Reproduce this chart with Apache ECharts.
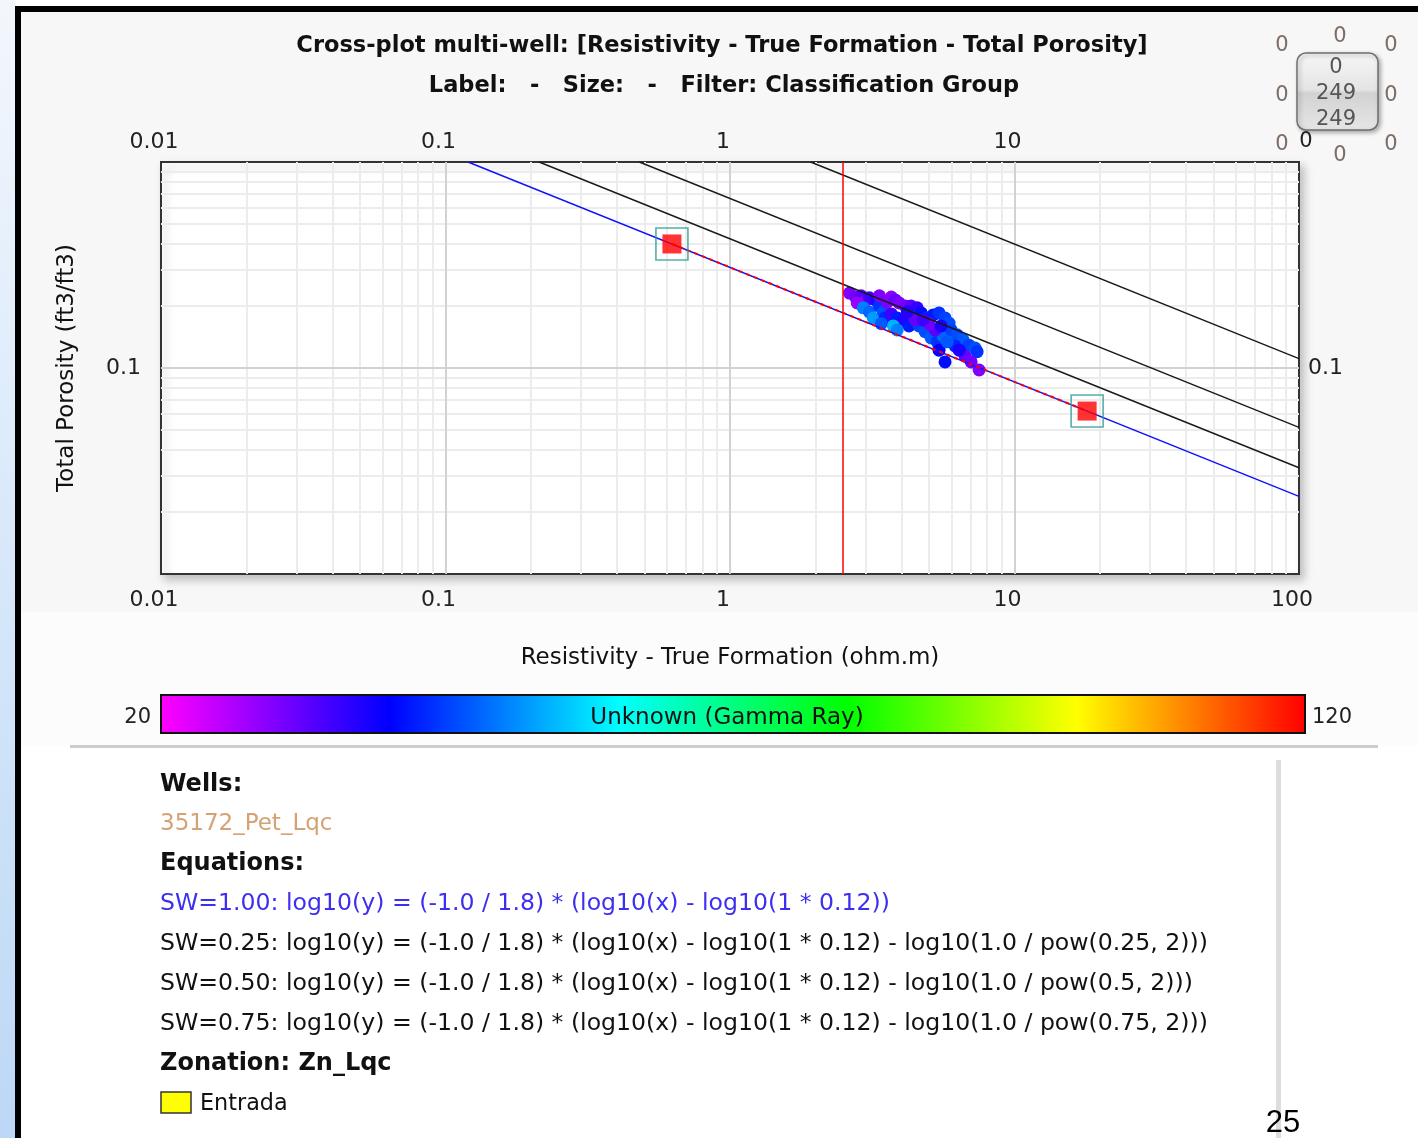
<!DOCTYPE html>
<html><head><meta charset="utf-8">
<script src="https://cdn.jsdelivr.net/npm/echarts@6/dist/echarts.min.js"></script>
<style>html,body{margin:0;padding:0;background:#fff}#c{width:1418px;height:1138px}</style>
</head><body><div id="c"></div>
<script>
// ---- tick labels ----
const xTickLabels = ['0.01', '0.1', '1', '10', '100'];
const xTopTickLabels = ['0.01', '0.1', '1', '10', ''];
const yTickLabels = ['', '0.1', ''];

// ---- gridline values (log decades and minor multiples) ----
const majorX = [0.1, 1, 10];
const minorX = [0.02,0.03,0.04,0.05,0.06,0.07,0.08,0.09,0.2,0.3,0.4,0.5,0.6,0.7,0.8,0.9,2,3,4,5,6,7,8,9,20,30,40,50,60,70,80,90];
const majorY = [0.1];
const minorY = [0.02,0.03,0.04,0.05,0.06,0.07,0.08,0.09,0.2,0.3,0.4,0.5,0.6,0.7,0.8,0.9];

// ---- well data: resistivity (ohm.m), total porosity, gamma ray ----
const resistivity = [2.63,2.76,2.89,2.99,2.80,3.09,3.24,2.94,3.09,3.19,3.35,3.46,3.57,3.69,3.81,3.93,4.13,4.33,4.55,3.51,3.69,3.87,4.06,4.26,3.75,3.87,3.40,4.40,4.70,4.93,5.18,5.43,5.70,5.89,4.62,4.85,5.09,5.35,5.61,5.99,6.28,6.60,6.92,7.27,7.39,5.43,5.70,5.26,5.01,6.71,7.04,7.51,6.18,6.39,4.48,4.77,5.52,5.80,3.35,4.20];
const porosity    = [0.231,0.221,0.224,0.211,0.207,0.219,0.214,0.196,0.187,0.175,0.200,0.187,0.209,0.221,0.214,0.207,0.200,0.200,0.196,0.175,0.183,0.175,0.167,0.160,0.160,0.153,0.164,0.179,0.185,0.175,0.181,0.185,0.175,0.165,0.160,0.150,0.140,0.134,0.143,0.153,0.145,0.137,0.129,0.125,0.120,0.122,0.107,0.153,0.164,0.114,0.107,0.0978,0.128,0.122,0.171,0.171,0.160,0.134,0.224,0.187];
const gammaRay    = [30,31,33,30,28,35,37,50,48,52,44,46,30,29,32,30,31,33,36,43,35,42,37,42,54,50,47,43,41,43,42,44,45,46,45,46,47,44,48,45,46,47,45,46,44,40,41,33,31,32,31,30,43,38,32,35,38,47,30,37];

// ---- Archie lines: SW level, resistivity at porosity=1, porosity at resistivity=100 ----
const swLevels = ['1.00', '0.75', '0.50', '0.25'];
const swLineStartX = [0.12, 0.2133, 0.48, 1.92];
const swLineEndY = [0.0238, 0.0328, 0.0515, 0.111];

// ---- fitted segment end points and cutoff ----
const fitX = [0.625, 18];
const fitY = [0.400, 0.0618];
const cutoffResistivity = [2.5];

// ---- colour scale ----
const grMin = 20, grMax = 120;
const grColors = ['#ff00ff', '#0000ff', '#00ffff', '#00ff00', '#ffff00', '#ff0000'];

const FONT = 'DejaVu Sans';
const chart = echarts.init(document.getElementById('c'), null, {renderer: 'canvas'});

const scatterData = resistivity.map((r, i) => [r, porosity[i], gammaRay[i]]);
const gridMinor = minorX.map(v => ({xAxis: v})).concat(minorY.map(v => ({yAxis: v})));
const gridMajor = majorX.map(v => ({xAxis: v})).concat(majorY.map(v => ({yAxis: v})));

const lblX = tbl => v => tbl[Math.round(Math.log10(v)) + 2] || '';
const axisLabelStyle = {fontFamily: FONT, fontSize: 22, color: '#222'};

const series = [
  {
    type: 'line', data: [], silent: true, z: 1,
    markLine: {silent: true, z: 1, symbol: ['none', 'none'], label: {show: false}, animation: false,
      lineStyle: {color: '#ececec', width: 2, type: 'solid'}, data: gridMinor}
  },
  {
    type: 'line', data: [], silent: true, z: 1,
    markLine: {silent: true, z: 1, symbol: ['none', 'none'], label: {show: false}, animation: false,
      lineStyle: {color: '#d2d2d2', width: 2, type: 'solid'}, data: gridMajor}
  },
  {
    type: 'scatter', name: 'wells', data: scatterData, symbol: 'circle', symbolSize: 13, z: 2,
    itemStyle: {opacity: 1}
  }
];
swLevels.forEach((sw, i) => {
  series.push({
    type: 'line', name: 'SW=' + sw, data: [[swLineStartX[i], 1], [100, swLineEndY[i]]],
    showSymbol: false, silent: true, z: 3,
    lineStyle: {color: i === 0 ? '#1010ff' : '#1a1a1a', width: 1.4}
  });
});
series.push({
  type: 'line', name: 'fit', data: fitX.map((x, i) => [x, fitY[i]]), showSymbol: false, silent: true, z: 4,
  lineStyle: {color: '#ff0000', width: 2, type: [4, 4]}
});
series.push({
  type: 'line', data: [], silent: true, z: 4,
  markLine: {silent: true, z: 4, symbol: ['none', 'none'], label: {show: false}, animation: false,
    lineStyle: {color: '#ff0000', width: 1.5, type: 'solid'}, data: cutoffResistivity.map(v => ({xAxis: v}))}
});
series.push({
  type: 'scatter', data: fitX.map((x, i) => [x, fitY[i]]), symbol: 'rect', symbolSize: 19, z: 5,
  itemStyle: {color: '#ff0000'}
});
series.push({
  type: 'scatter', data: fitX.map((x, i) => [x, fitY[i]]), symbol: 'rect', symbolSize: 32, z: 5,
  itemStyle: {color: 'rgba(0,0,0,0)', borderColor: '#2f9a92', borderWidth: 1.6}
});

const zeroTexts = [[1282,44],[1340,35],[1391,44],[1282,94],[1391,94],[1282,143],[1340,154],[1391,143]];
const T = (x, y, text, font, fill, align) => ({type: 'text', x: x, y: y + 2, silent: true,
  style: {text: text, font: font, fill: fill, align: align || 'left', verticalAlign: 'middle'}});

const graphic = [
  // page frame
  {type: 'rect', shape: {x: 0, y: 0, width: 1418, height: 1138}, style: {fill: '#ffffff'}, z: -10, silent: true},
  {type: 'rect', shape: {x: 21, y: 12, width: 1397, height: 600}, style: {fill: '#f7f7f7'}, z: -9, silent: true},
  {type: 'rect', shape: {x: 21, y: 612, width: 1397, height: 134}, style: {fill: '#fcfcfc'}, z: -9, silent: true},
  {type: 'rect', shape: {x: 0, y: 0, width: 15, height: 1138}, silent: true, z: -8,
    style: {fill: new echarts.graphic.LinearGradient(0, 0, 0, 1, [{offset: 0, color: '#f2f7fd'}, {offset: 1, color: '#bcd8f6'}])}},
  {type: 'rect', shape: {x: 15, y: 6, width: 6, height: 1132}, style: {fill: '#000'}, silent: true, z: 50},
  {type: 'rect', shape: {x: 15, y: 6, width: 1403, height: 6}, style: {fill: '#000'}, silent: true, z: 50},
  // titles
  T(722, 44, 'Cross-plot multi-well: [Resistivity - True Formation - Total Porosity]', 'bold 22.5px "DejaVu Sans"', '#111', 'center'),
  T(724, 84, 'Label:   -   Size:   -   Filter: Classification Group', 'bold 22.5px "DejaVu Sans"', '#111', 'center'),
  // colour bar frame + labels
  {type: 'rect', shape: {x: 161, y: 695, width: 1144, height: 38}, style: {fill: null, stroke: '#111', lineWidth: 2}, z: 100, silent: true},
  Object.assign(T(727, 716, 'Unknown (Gamma Ray)', '23px "DejaVu Sans"', '#111', 'center'), {z: 101}),
  T(151, 716, String(grMin), '21px "DejaVu Sans"', '#222', 'right'),
  T(1312, 716, String(grMax), '21px "DejaVu Sans"', '#222', 'left'),
  // separator + scroll line
  {type: 'rect', shape: {x: 70, y: 745, width: 1308, height: 3}, style: {fill: '#cccccc'}, silent: true},
  {type: 'rect', shape: {x: 1276, y: 760, width: 5, height: 378}, style: {fill: '#dddddd'}, silent: true},
  // info block
  T(160, 783, 'Wells:', 'bold 24px "DejaVu Sans"', '#111'),
  T(160, 822, '35172_Pet_Lqc', '23px "DejaVu Sans"', '#d6a274'),
  T(160, 862, 'Equations:', 'bold 24px "DejaVu Sans"', '#111'),
  T(160, 902, 'SW=1.00: log10(y) = (-1.0 / 1.8) * (log10(x) - log10(1 * 0.12))', '23.6px "DejaVu Sans"', '#3d2ff0'),
  T(160, 942, 'SW=0.25: log10(y) = (-1.0 / 1.8) * (log10(x) - log10(1 * 0.12) - log10(1.0 / pow(0.25, 2)))', '23.6px "DejaVu Sans"', '#111'),
  T(160, 982, 'SW=0.50: log10(y) = (-1.0 / 1.8) * (log10(x) - log10(1 * 0.12) - log10(1.0 / pow(0.5, 2)))', '23.6px "DejaVu Sans"', '#111'),
  T(160, 1022, 'SW=0.75: log10(y) = (-1.0 / 1.8) * (log10(x) - log10(1 * 0.12) - log10(1.0 / pow(0.75, 2)))', '23.6px "DejaVu Sans"', '#111'),
  T(160, 1062, 'Zonation: Zn_Lqc', 'bold 24px "DejaVu Sans"', '#111'),
  {type: 'rect', shape: {x: 161, y: 1092, width: 30, height: 21}, style: {fill: '#ffff00', stroke: '#333', lineWidth: 1.5}, silent: true},
  T(200, 1102, 'Entrada', '22.3px "DejaVu Sans"', '#111'),
  T(1283, 1121, '25', '31px "Liberation Sans"', '#000', 'center'),
  // top-right counter widget
  {type: 'rect', shape: {x: 1297, y: 53, width: 81, height: 77, r: 9}, silent: true,
    style: {fill: new echarts.graphic.LinearGradient(0, 0, 0, 1, [{offset: 0, color: '#f6f6f6'}, {offset: 0.48, color: '#e4e4e4'}, {offset: 0.52, color: '#d2d2d2'}, {offset: 1, color: '#e6e6e6'}]),
      stroke: '#6f6f6f', lineWidth: 1.5, shadowBlur: 4, shadowColor: 'rgba(0,0,0,0.3)', shadowOffsetX: 2, shadowOffsetY: 2}},
  T(1336, 66, '0', '21px "DejaVu Sans"', '#555', 'center'),
  T(1336, 92, '249', '21px "DejaVu Sans"', '#555', 'center'),
  T(1336, 118, '249', '21px "DejaVu Sans"', '#555', 'center'),
  T(1306, 140, '0', '21px "DejaVu Sans"', '#222', 'center')
].concat(zeroTexts.map(p => T(p[0], p[1], '0', '21px "DejaVu Sans"', '#7d6d66', 'center')));

chart.setOption({
  animation: false,
  backgroundColor: 'transparent',
  grid: {left: 161, right: 119, top: 162, bottom: 564, show: true, backgroundColor: '#ffffff',
    borderColor: '#333', borderWidth: 2, shadowBlur: 8, shadowColor: 'rgba(0,0,0,0.22)', shadowOffsetX: 4, shadowOffsetY: 5},
  xAxis: [
    {type: 'log', logBase: 10, min: 0.01, max: 100, position: 'bottom',
      axisLine: {show: false}, axisTick: {show: false}, splitLine: {show: false},
      axisLabel: Object.assign({formatter: lblX(xTickLabels), margin: 15, padding: [0, 14, 0, 0]}, axisLabelStyle),
      name: 'Resistivity - True Formation (ohm.m)', nameLocation: 'middle', nameGap: 73,
      nameTextStyle: {fontFamily: FONT, fontSize: 23, color: '#111'}},
    {type: 'log', logBase: 10, min: 0.01, max: 100, position: 'top',
      axisLine: {show: false}, axisTick: {show: false}, splitLine: {show: false},
      axisLabel: Object.assign({formatter: lblX(xTopTickLabels), margin: 9, padding: [0, 14, 0, 0]}, axisLabelStyle)}
  ],
  yAxis: [
    {type: 'log', logBase: 10, min: 0.01, max: 1, position: 'left',
      axisLine: {show: false}, axisTick: {show: false}, splitLine: {show: false},
      axisLabel: Object.assign({formatter: lblX(yTickLabels), margin: 20, padding: [8, 0, 0, 0]}, axisLabelStyle),
      name: 'Total Porosity (ft3/ft3)', nameLocation: 'middle', nameGap: 82,
      nameTextStyle: {fontFamily: FONT, fontSize: 23, color: '#111'}},
    {type: 'log', logBase: 10, min: 0.01, max: 1, position: 'right',
      axisLine: {show: false}, axisTick: {show: false}, splitLine: {show: false},
      axisLabel: Object.assign({formatter: lblX(yTickLabels), margin: 9, padding: [8, 0, 0, 0]}, axisLabelStyle)}
  ],
  visualMap: {
    type: 'continuous', min: grMin, max: grMax, dimension: 2, seriesIndex: 2,
    orient: 'horizontal', left: 161, top: 695, itemWidth: 38, itemHeight: 1144, padding: 0,
    calculable: false, hoverLink: false, show: true, realtime: false,
    inRange: {color: grColors}
  },
  series: series,
  graphic: graphic
});
</script></body></html>
